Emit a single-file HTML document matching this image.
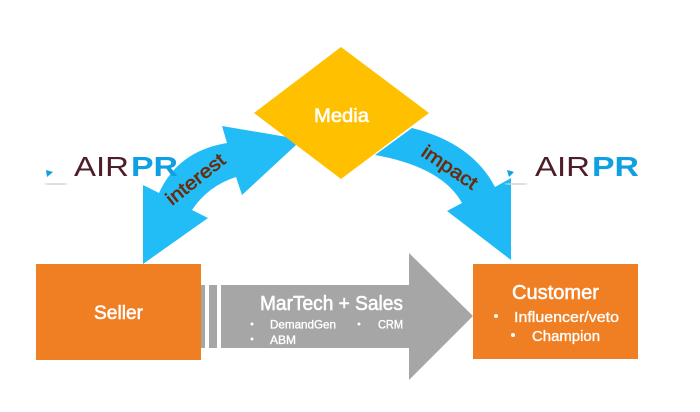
<!DOCTYPE html>
<html>
<head>
<meta charset="utf-8">
<style>
html,body{margin:0;padding:0;background:#fff;width:700px;height:412px;overflow:hidden}
svg{display:block}
text{font-family:"Liberation Sans",sans-serif}
.w{fill:#fff;stroke:#fff;stroke-width:.55}
.s{fill:#fff;stroke:#fff;stroke-width:.35}
.b{fill:#6b2c0e;stroke:#6b2c0e;stroke-width:.6}
</style>
</head>
<body>
<svg width="700" height="412" viewBox="0 0 700 412" xmlns="http://www.w3.org/2000/svg">
<rect width="700" height="412" fill="#fff"/>

<!-- Left arrow -->
<path d="M143 264 L143 185 L159 193 Q178 151 227 143 L222 126 L287 137 L296 145 L242 195 L236 177 Q208 186 192 210 L208 218 Z" fill="#22bcf6"/>
<!-- Right arrow -->
<path d="M412 128 Q472 143 495 187 L511 178 L511 260 L447 211 L462 203 Q442 167 375 155 Z" fill="#1fbaf5"/>
<!-- Diamond -->
<polygon points="254,113 341,47 429,113 341,179" fill="#ffc000"/>
<text x="314" y="122" font-size="19" class="w" textLength="55" lengthAdjust="spacingAndGlyphs">Media</text>

<!-- Arrow labels -->
<text transform="translate(172,206) rotate(-38.500)" font-size="19" class="b" textLength="70" lengthAdjust="spacingAndGlyphs">interest</text>
<text transform="translate(420,155) rotate(34)" font-size="19" class="b" textLength="63" lengthAdjust="spacingAndGlyphs">impact</text>

<!-- Logos -->
<text x="74" y="176" font-size="28" fill="#4e1d27" textLength="55" lengthAdjust="spacingAndGlyphs">AIR</text>
<text x="131" y="176" font-size="28" font-weight="700" fill="#0f9fe3" textLength="47" lengthAdjust="spacingAndGlyphs">PR</text>
<polygon points="46,170 53,172 47,177" fill="#0f9fe3"/>
<ellipse cx="56" cy="184" rx="12" ry="0.8" fill="#d9cdd0"/>

<text x="535" y="176" font-size="28" fill="#4e1d27" textLength="55" lengthAdjust="spacingAndGlyphs">AIR</text>
<text x="592" y="176" font-size="28" font-weight="700" fill="#0f9fe3" textLength="47" lengthAdjust="spacingAndGlyphs">PR</text>
<polygon points="507,170 514,172 509,177" fill="#0f9fe3"/>
<ellipse cx="516" cy="184" rx="12" ry="0.8" fill="#d9cdd0"/>

<!-- Grey arrow -->
<rect x="201" y="285" width="4" height="63" fill="#a6a6a6"/>
<rect x="209" y="285" width="8" height="63" fill="#a6a6a6"/>
<polygon points="221,285 409,285 409,253 473,316 409,380 409,348 221,348" fill="#a6a6a6"/>
<text x="260" y="310" font-size="20" class="w" textLength="143" lengthAdjust="spacingAndGlyphs">MarTech + Sales</text>
<circle cx="252" cy="324" r="1.500" fill="#fff"/>
<text x="270" y="328.500" font-size="12" class="s" textLength="66" lengthAdjust="spacingAndGlyphs">DemandGen</text>
<circle cx="359" cy="324" r="1.500" fill="#fff"/>
<text x="378" y="328.500" font-size="12" class="s" textLength="25" lengthAdjust="spacingAndGlyphs">CRM</text>
<circle cx="252" cy="339" r="1.500" fill="#fff"/>
<text x="270" y="344" font-size="12" class="s" textLength="26" lengthAdjust="spacingAndGlyphs">ABM</text>

<!-- Seller -->
<rect x="36" y="264" width="165" height="96" fill="#f07e22"/>
<text x="94" y="319" font-size="19" class="w" textLength="49" lengthAdjust="spacingAndGlyphs">Seller</text>

<!-- Customer -->
<rect x="473" y="264" width="165" height="95" fill="#f07e22"/>
<text x="512" y="299" font-size="20" class="w" textLength="87" lengthAdjust="spacingAndGlyphs">Customer</text>
<circle cx="496" cy="316" r="2" fill="#fff"/>
<text x="514" y="322" font-size="15" class="s" textLength="105" lengthAdjust="spacingAndGlyphs">Influencer/veto</text>
<circle cx="513" cy="335" r="2" fill="#fff"/>
<text x="532" y="341" font-size="15" class="s" textLength="68" lengthAdjust="spacingAndGlyphs">Champion</text>
</svg>
</body>
</html>
